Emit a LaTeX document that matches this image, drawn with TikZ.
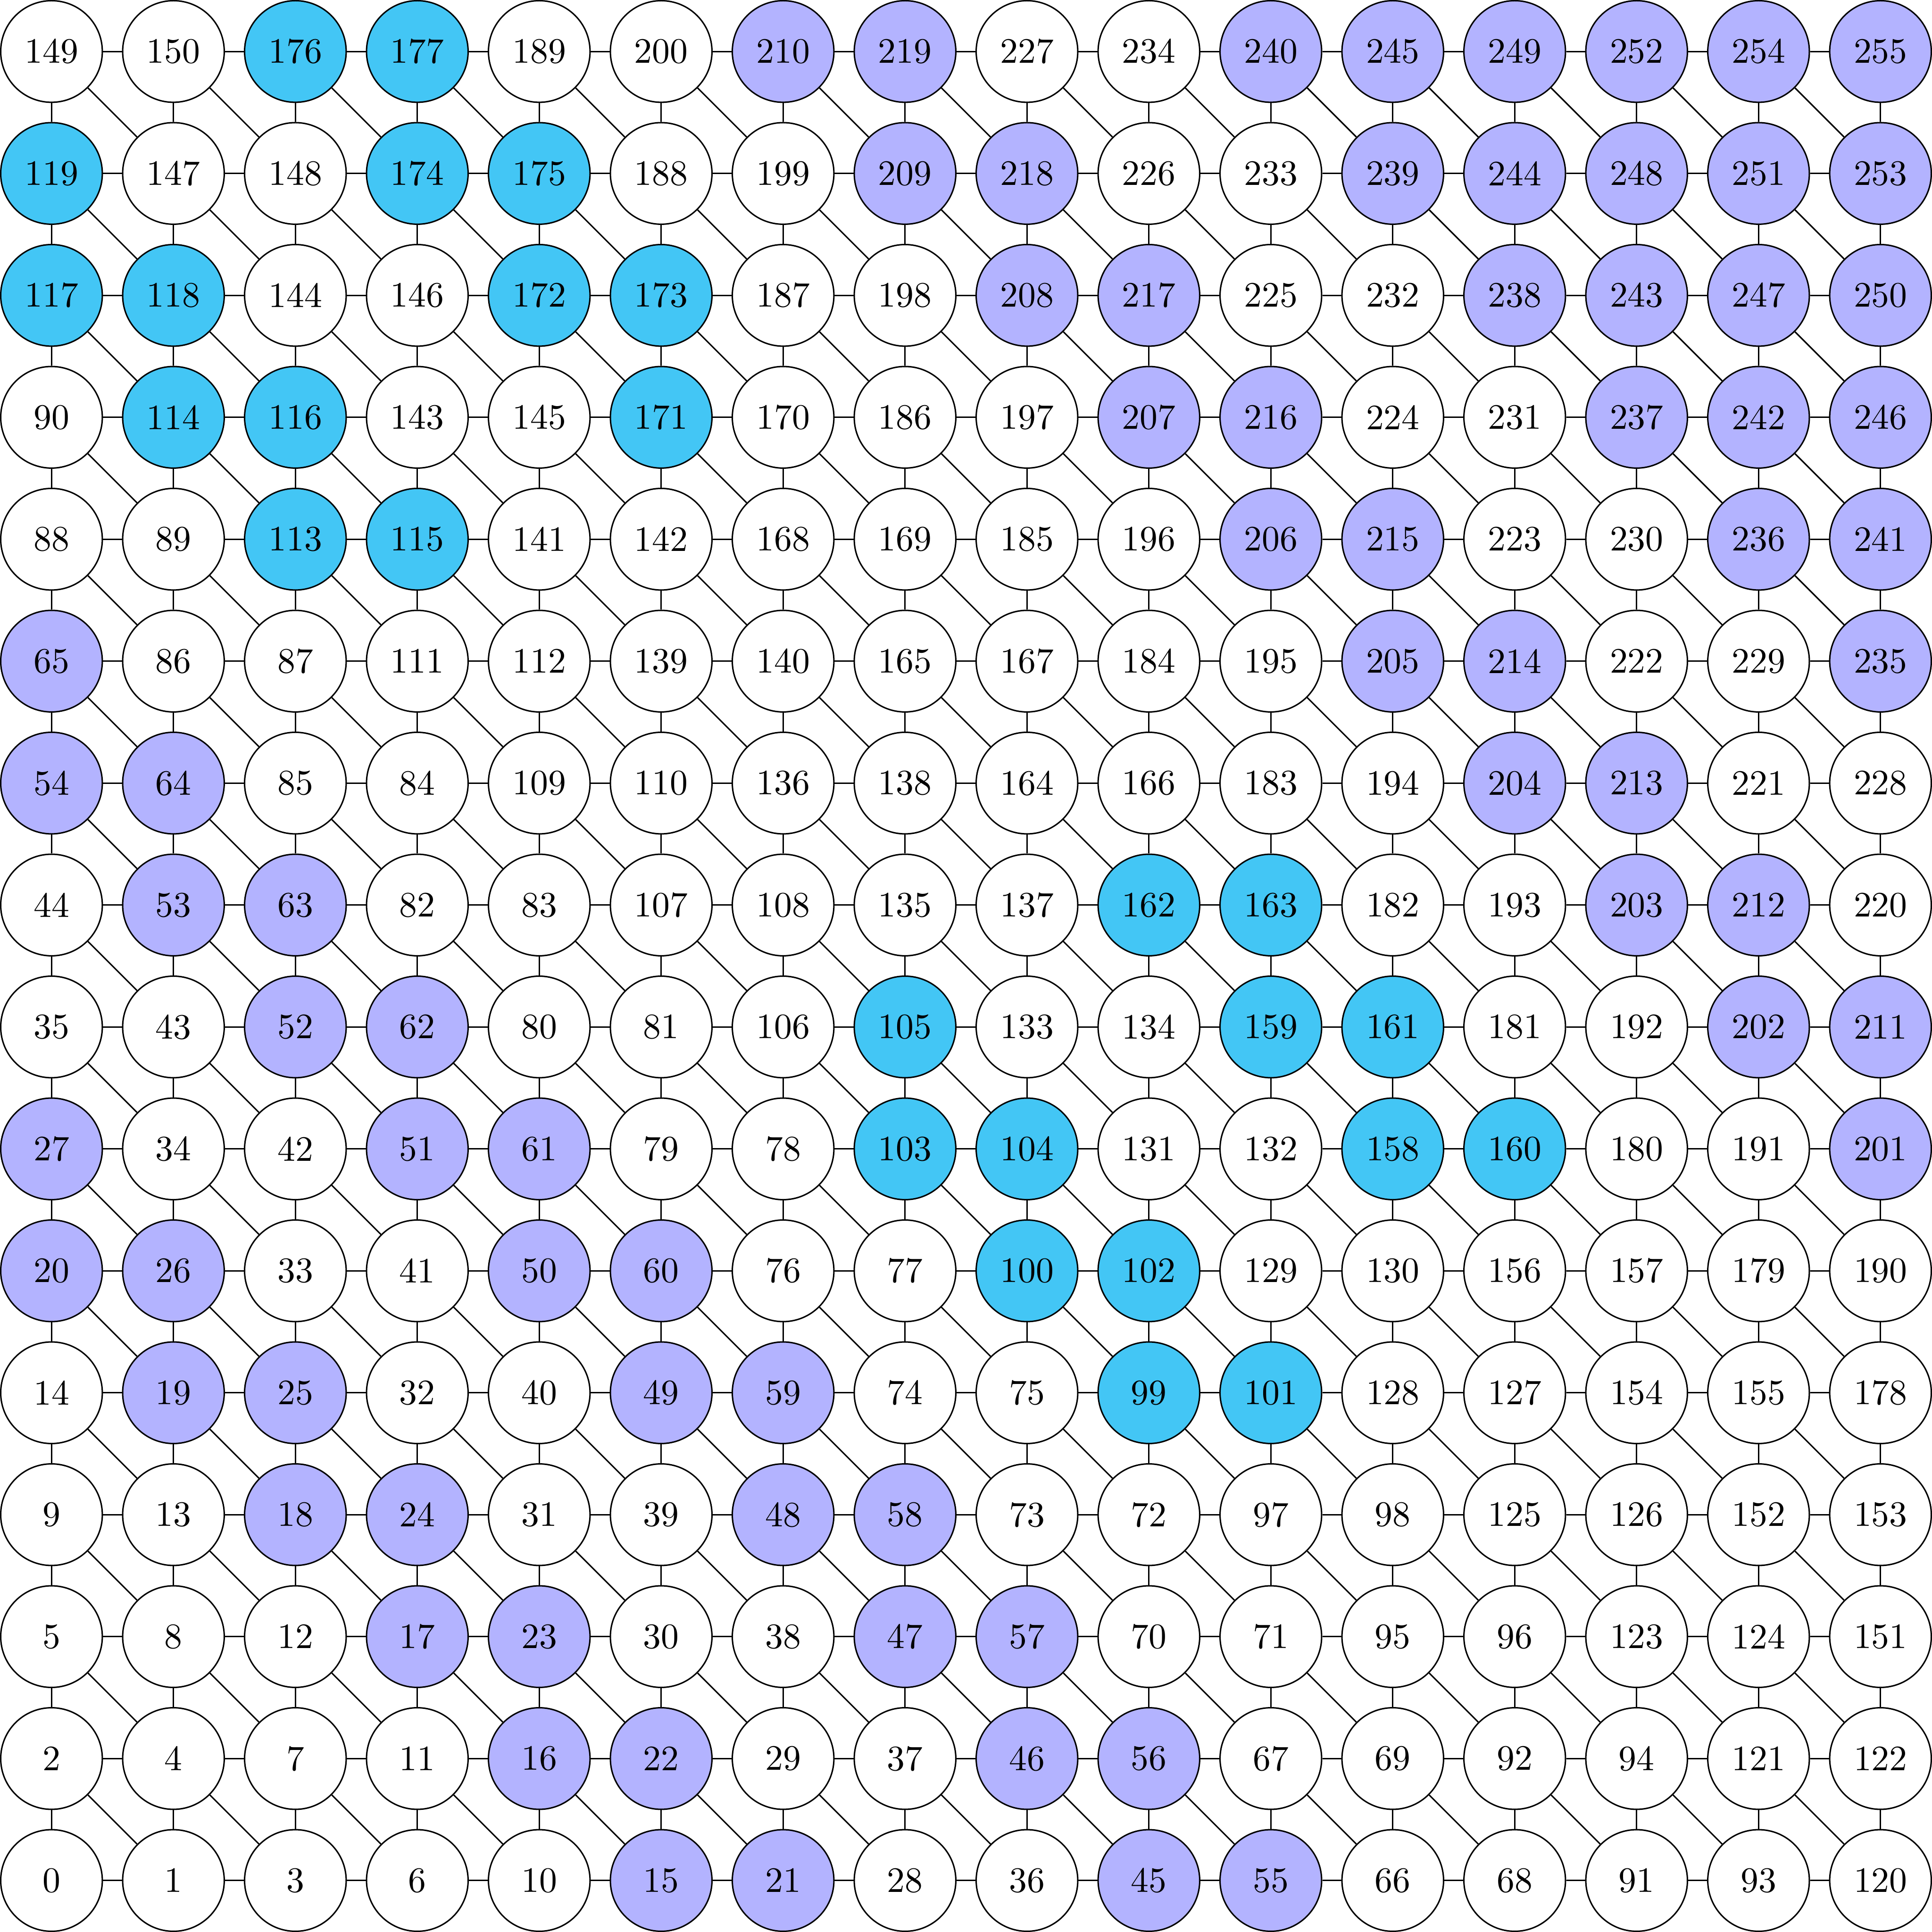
\documentclass[tikz,border=0pt]{standalone}
\usepackage{xcolor}
\usepackage{tikz}
\definecolor{W}{RGB}{255,255,255}
\definecolor{C}{RGB}{67,198,245}
\definecolor{L}{RGB}{179,179,255}

\begin{document}
\begin{tikzpicture}[
  vtx/.style={draw, circle, minimum size=1cm, inner sep=0pt},
  lnk/.style={draw}]
\foreach \row [count=\r from 1] in {
  {0/W,1/W,3/W,6/W,10/W,15/L,21/L,28/W,36/W,45/L,55/L,66/W,68/W,91/W,93/W,120/W},
  {2/W,4/W,7/W,11/W,16/L,22/L,29/W,37/W,46/L,56/L,67/W,69/W,92/W,94/W,121/W,122/W},
  {5/W,8/W,12/W,17/L,23/L,30/W,38/W,47/L,57/L,70/W,71/W,95/W,96/W,123/W,124/W,151/W},
  {9/W,13/W,18/L,24/L,31/W,39/W,48/L,58/L,73/W,72/W,97/W,98/W,125/W,126/W,152/W,153/W},
  {14/W,19/L,25/L,32/W,40/W,49/L,59/L,74/W,75/W,99/C,101/C,128/W,127/W,154/W,155/W,178/W},
  {20/L,26/L,33/W,41/W,50/L,60/L,76/W,77/W,100/C,102/C,129/W,130/W,156/W,157/W,179/W,190/W},
  {27/L,34/W,42/W,51/L,61/L,79/W,78/W,103/C,104/C,131/W,132/W,158/C,160/C,180/W,191/W,201/L},
  {35/W,43/W,52/L,62/L,80/W,81/W,106/W,105/C,133/W,134/W,159/C,161/C,181/W,192/W,202/L,211/L},
  {44/W,53/L,63/L,82/W,83/W,107/W,108/W,135/W,137/W,162/C,163/C,182/W,193/W,203/L,212/L,220/W},
  {54/L,64/L,85/W,84/W,109/W,110/W,136/W,138/W,164/W,166/W,183/W,194/W,204/L,213/L,221/W,228/W},
  {65/L,86/W,87/W,111/W,112/W,139/W,140/W,165/W,167/W,184/W,195/W,205/L,214/L,222/W,229/W,235/L},
  {88/W,89/W,113/C,115/C,141/W,142/W,168/W,169/W,185/W,196/W,206/L,215/L,223/W,230/W,236/L,241/L},
  {90/W,114/C,116/C,143/W,145/W,171/C,170/W,186/W,197/W,207/L,216/L,224/W,231/W,237/L,242/L,246/L},
  {117/C,118/C,144/W,146/W,172/C,173/C,187/W,198/W,208/L,217/L,225/W,232/W,238/L,243/L,247/L,250/L},
  {119/C,147/W,148/W,174/C,175/C,188/W,199/W,209/L,218/L,226/W,233/W,239/L,244/L,248/L,251/L,253/L},
  {149/W,150/W,176/C,177/C,189/W,200/W,210/L,219/L,227/W,234/W,240/L,245/L,249/L,252/L,254/L,255/L}}
  \foreach \v/\f [count=\c from 1] in \row
    \node[vtx, fill=\f] (v\c-\r) at (1.2*\c-1.2, 1.2*\r-1.2) {\v};
% grid links: right, up, and down-right diagonal
\foreach \c in {1,...,16}
  \foreach \r in {1,...,16} {
    \pgfmathtruncatemacro\cnext{\c+1}
    \pgfmathtruncatemacro\rnext{\r+1}
    \pgfmathtruncatemacro\rprev{\r-1}
    \ifnum\c<16 \draw[lnk] (v\c-\r) -- (v\cnext-\r); \fi
    \ifnum\r<16 \draw[lnk] (v\c-\r) -- (v\c-\rnext); \fi
    \ifnum\c<16 \ifnum\r>1 \draw[lnk] (v\c-\r) -- (v\cnext-\rprev); \fi\fi
  }
\end{tikzpicture}
\end{document}
